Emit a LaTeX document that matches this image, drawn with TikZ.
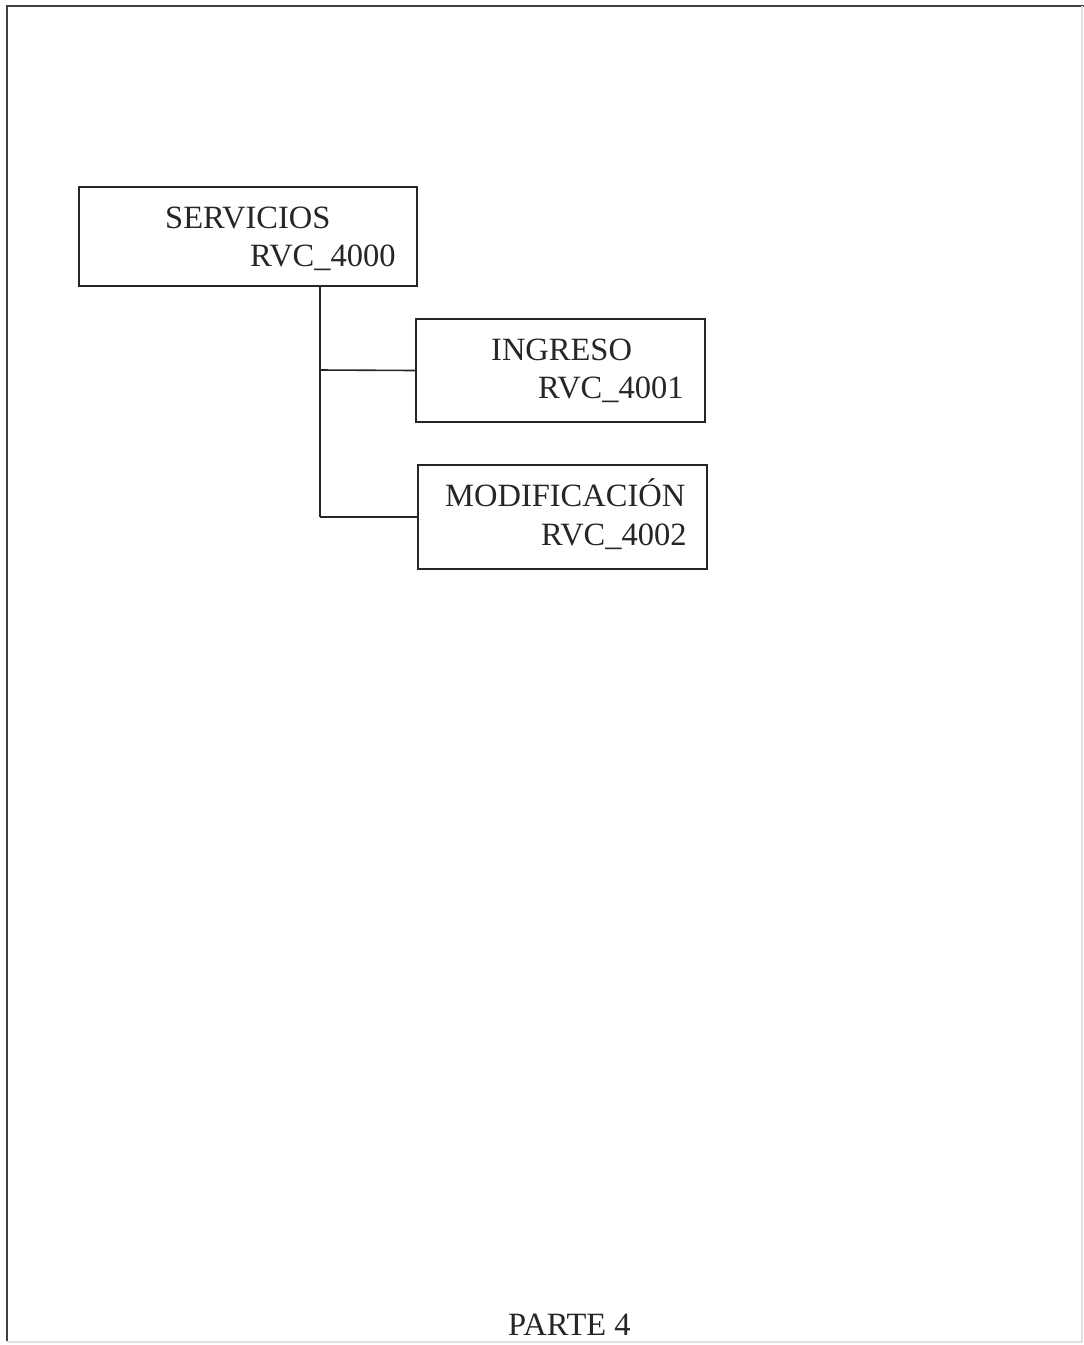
\documentclass[tikz,border=0pt]{standalone}
\usepackage{fontspec}
\setmainfont{Liberation Serif}
\begin{document}
\begin{tikzpicture}[x=1pt,y=-1pt,
  box/.style={draw=black!85,line width=1.6pt,rectangle,inner sep=0pt},
  lbl/.style={anchor=base west,inner sep=0pt,font=\fontsize{32.5}{38}\selectfont,text=black!85},
  conn/.style={draw=black!85,line width=1.6pt}]
\useasboundingbox (0,0) rectangle (1084,1345);
\fill[white] (0,0) rectangle (1084,1345);
% frame
\draw[black!75,line width=2.5pt] (7,1341) -- (7,6) -- (1084,6);
\draw[black!12,line width=1.5pt] (7,1342) -- (1082,1342) -- (1082,6);
% boxes
\node[box,minimum width=338pt,minimum height=99pt] (s) at (248,236.5) {};
\node[box,minimum width=289pt,minimum height=103pt] (i) at (560.5,370.5) {};
\node[box,minimum width=289pt,minimum height=104pt] (m) at (562.5,517) {};
% texts
\node[lbl] (s1) at (165,228) {SERVICIOS};
\node[lbl] (s2) at (250,266) {RVC\_4000};
\node[lbl] (i1) at (491,360) {INGRESO};
\node[lbl] (i2) at (538,398) {RVC\_4001};
\node[lbl] (m1) at (445,506) {MODIFICACIÓN};
\node[lbl] (m2) at (541,545) {RVC\_4002};
\node[lbl] (p) at (508,1335) {PARTE 4};
% connectors
\coordinate (top) at (320,0 |- s.south);
\coordinate (j1) at (320,370);
\coordinate (j2) at (320,517);
\draw[conn] (top) -- (j2 |- m.west);
\draw[conn] (j1) -- (i.west);
\draw[conn] (j2 |- m.west) -- (m.west);
\end{tikzpicture}
\end{document}
